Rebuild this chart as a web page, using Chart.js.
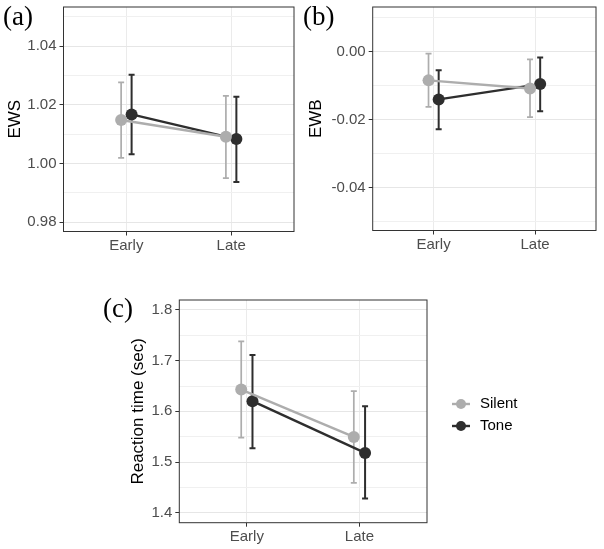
<!DOCTYPE html>
<html>
<head>
<meta charset="utf-8">
<script src="https://cdn.jsdelivr.net/npm/chart.js@4/dist/chart.umd.min.js"></script>
<style>
  body { margin: 0; background: #fff; }
  #wrap { position: relative; width: 604px; height: 549px; overflow: hidden; }
  canvas { position: absolute; }
  .tag { position: absolute; font-family: 'Liberation Serif', serif; font-size: 27px; color: #000; line-height: 1; }
</style>
</head>
<body>
<div id="wrap">
  <canvas id="chartA" width="300" height="260" style="left:0;top:0"></canvas>
  <canvas id="chartB" width="304" height="260" style="left:300px;top:0"></canvas>
  <canvas id="chartC" width="504" height="289" style="left:100px;top:260px"></canvas>
  <div class="tag" style="left:3px;top:3px">(a)</div>
  <div class="tag" style="left:303px;top:3px">(b)</div>
  <div class="tag" style="left:103px;top:295px">(c)</div>
</div>
<script>
const categories = ['Early', 'Late'];
const groups = ['Silent', 'Tone'];

// (a) EWS
const ewsSilent = [1.0148, 1.0091];
const ewsSilentLo = [1.0019, 0.9950];
const ewsSilentHi = [1.0276, 1.0230];
const ewsTone = [1.0167, 1.0083];
const ewsToneLo = [1.0031, 0.9937];
const ewsToneHi = [1.0302, 1.0227];
const ewsTicks = [0.98, 1.00, 1.02, 1.04];

// (b) EWB
const ewbSilent = [-0.0084, -0.0108];
const ewbSilentLo = [-0.0162, -0.0192];
const ewbSilentHi = [-0.0005, -0.0022];
const ewbTone = [-0.0140, -0.0095];
const ewbToneLo = [-0.0228, -0.0175];
const ewbToneHi = [-0.0054, -0.0017];
const ewbTicks = [-0.04, -0.02, 0.00];

// (c) reaction time
const rtSilent = [1.643, 1.5495];
const rtSilentLo = [1.548, 1.459];
const rtSilentHi = [1.738, 1.640];
const rtTone = [1.620, 1.518];
const rtToneLo = [1.527, 1.428];
const rtToneHi = [1.711, 1.610];
const rtTicks = [1.4, 1.5, 1.6, 1.7, 1.8];

const colSilent = '#adadad';
const colTone = '#2e2e2e';
const dodge = 0.05;
const sans = "'Liberation Sans', Arial, sans-serif";

Chart.defaults.font.family = sans;
Chart.defaults.animation = false;

// error bars + panel border
const errorBars = {
  id: 'errorBars',
  beforeDatasetsDraw(chart) {
    const ctx = chart.ctx, xs = chart.scales.x, ys = chart.scales.y;
    chart.data.datasets.forEach(ds => {
      ctx.save();
      ctx.strokeStyle = ds.borderColor;
      ctx.lineWidth = ds.errWidth;
      ds.data.forEach((p, i) => {
        const x = xs.getPixelForValue(p.x);
        const y1 = ys.getPixelForValue(ds.lo[i]);
        const y2 = ys.getPixelForValue(ds.hi[i]);
        ctx.beginPath();
        ctx.moveTo(x, y1); ctx.lineTo(x, y2);
        ctx.moveTo(x - 3, y1); ctx.lineTo(x + 3, y1);
        ctx.moveTo(x - 3, y2); ctx.lineTo(x + 3, y2);
        ctx.stroke();
      });
      ctx.restore();
    });
  },
  afterDraw(chart) {
    const a = chart.chartArea, ctx = chart.ctx;
    ctx.save();
    ctx.strokeStyle = '#333333';
    ctx.lineWidth = 1;
    ctx.strokeRect(a.left, a.top, a.right - a.left, a.bottom - a.top);
    ctx.restore();
  }
};

const legendBox = {
  id: 'legendBox',
  afterDraw(chart) {
    const ctx = chart.ctx;
    const items = [[groups[0], colSilent, 144], [groups[1], colTone, 166]];
    ctx.save();
    items.forEach(([label, col, y]) => {
      ctx.strokeStyle = col;
      ctx.fillStyle = col;
      ctx.lineWidth = 2.4;
      ctx.beginPath(); ctx.moveTo(352, y); ctx.lineTo(370, y); ctx.stroke();
      ctx.beginPath(); ctx.arc(361, y, 5, 0, Math.PI * 2); ctx.fill();
      ctx.fillStyle = '#000';
      ctx.font = '15px ' + sans;
      ctx.textBaseline = 'middle';
      ctx.fillText(label, 380, y);
    });
    ctx.restore();
  }
};

function makeSet(label, vals, lo, hi, col, off, w) {
  return {
    label: label,
    data: vals.map((v, i) => ({ x: i + 1 + off, y: v })),
    lo: lo, hi: hi,
    borderColor: col, backgroundColor: col,
    borderWidth: 2.4, errWidth: w,
    pointRadius: 6, pointHoverRadius: 6,
    pointBackgroundColor: col, pointBorderWidth: 0
  };
}

function makeChart(id, sets, cfg) {
  const minor = [];
  for (let i = 0; i < cfg.ticks.length; i++) {
    minor.push(cfg.ticks[i]);
    minor.push(cfg.ticks[i] + cfg.step / 2);
  }
  minor.unshift(cfg.ticks[0] - cfg.step / 2);
  const isMajor = v => cfg.ticks.some(t => Math.abs(t - v) < cfg.step / 10);
  return new Chart(document.getElementById(id), {
    type: 'line',
    data: { datasets: sets },
    options: {
      responsive: false,
      layout: { padding: cfg.pad },
      plugins: { legend: { display: false }, tooltip: { enabled: false } },
      scales: {
        x: {
          type: 'linear', min: 0.4, max: 2.6,
          afterBuildTicks: s => { s.ticks = categories.map((c, i) => ({ value: i + 1 })); },
          afterFit: s => { s.height = cfg.xh; s.paddingLeft = 0; s.paddingRight = 0; },
          ticks: {
            callback: v => categories[Math.round(v) - 1],
            color: '#4d4d4d', font: { size: 15 }, padding: 1, maxRotation: 0
          },
          grid: { color: '#ebebeb', lineWidth: 1, tickLength: 4, tickColor: '#333333' },
          border: { display: false }
        },
        y: {
          type: 'linear', min: cfg.min, max: cfg.max,
          afterBuildTicks: s => {
            s.ticks = minor.filter(v => v > cfg.min && v < cfg.max).map(v => ({ value: v }));
          },
          afterFit: s => { s.width = cfg.yw; s.paddingTop = 0; s.paddingBottom = 0; },
          ticks: {
            callback: v => isMajor(v) ? v.toFixed(cfg.dec) : '',
            color: '#4d4d4d', font: { size: 15 }, padding: 3
          },
          grid: {
            color: c => c.tick && isMajor(c.tick.value) ? '#e6e6e6' : '#f0f0f0',
            lineWidth: 1, tickLength: 4,
            tickColor: c => c.tick && isMajor(c.tick.value) ? '#333333' : 'rgba(0,0,0,0)'
          },
          border: { display: false },
          title: {
            display: true, text: cfg.title, color: '#000',
            font: { size: 17 }, padding: { top: cfg.tpad, bottom: 0 }
          }
        }
      }
    },
    plugins: cfg.legend ? [errorBars, legendBox] : [errorBars]
  });
}

makeChart('chartA', [
  makeSet(groups[0], ewsSilent, ewsSilentLo, ewsSilentHi, colSilent, -dodge, 1.7),
  makeSet(groups[1], ewsTone, ewsToneLo, ewsToneHi, colTone, dodge, 2)
], { ticks: ewsTicks, step: 0.02, min: 0.9768, max: 1.0533, dec: 2, title: 'EWS',
     pad: { top: 7, right: 4, left: 0, bottom: 0 }, yw: 63.5, xh: 28.5, tpad: 5 });

makeChart('chartB', [
  makeSet(groups[0], ewbSilent, ewbSilentLo, ewbSilentHi, colSilent, -dodge, 1.7),
  makeSet(groups[1], ewbTone, ewbToneLo, ewbToneHi, colTone, dodge, 2)
], { ticks: ewbTicks, step: 0.02, min: -0.0526, max: 0.0132, dec: 2, title: 'EWB',
     pad: { top: 7, right: 8, left: 0, bottom: 0 }, yw: 72.7, xh: 29.5, tpad: 6 });

makeChart('chartC', [
  makeSet(groups[0], rtSilent, rtSilentLo, rtSilentHi, colSilent, -dodge, 1.7),
  makeSet(groups[1], rtTone, rtToneLo, rtToneHi, colTone, dodge, 2)
], { ticks: rtTicks, step: 0.1, min: 1.3803, max: 1.8197, dec: 1, title: 'Reaction time (sec)',
     pad: { top: 40, right: 177, left: 0, bottom: 0 }, yw: 79.3, xh: 26.3, tpad: 28, legend: true });
</script>
</body>
</html>
